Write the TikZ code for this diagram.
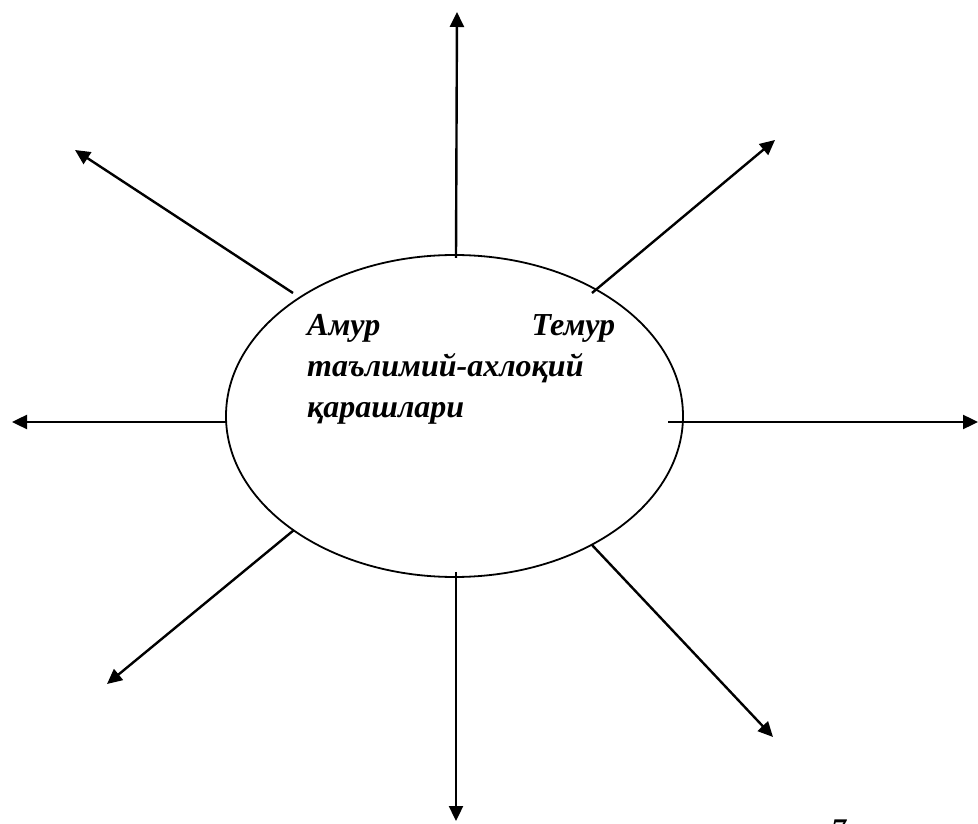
\documentclass[tikz,border=0pt]{standalone}
\usepackage{fontspec}
\setmainfont{Liberation Serif}
\usetikzlibrary{arrows.meta,shapes.geometric}
\tikzset{
  core/.style={draw,ellipse,line width=1.8pt,inner sep=0pt,
    minimum width=457pt,minimum height=322pt},
  ray/.style={-{Triangle[length=15pt,width=14pt]},line width=2.4pt},
  lbl/.style={font=\fontsize{32}{41}\selectfont\bfseries\itshape,
    text width=308pt,align=left,inner sep=0pt},
}
\begin{document}
\begin{tikzpicture}[x=1pt,y=1pt]
  \useasboundingbox (0,0) rectangle (978,823);
  \node[core] (c) at (454.5,407) {};
  \node[lbl,anchor=north west] (t) at (307,509)
    {Амур\hfill Темур\\таълимий-ахлоқий\\қарашлари};
  % ray ends
  \coordinate (sn)  at (456,565);  \coordinate (en)  at (457,811);
  \coordinate (ss)  at (456,251);  \coordinate (es)  at (456,2);
  \coordinate (sw)  at (226,401);  \coordinate (ew)  at (12,401);
  \coordinate (se)  at (668,401);  \coordinate (ee)  at (978,401);
  \coordinate (snw) at (293,530);  \coordinate (enw) at (75,673);
  \coordinate (sne) at (592,530);  \coordinate (ene) at (775,683);
  \coordinate (ssw) at (294,293);  \coordinate (esw) at (107,139);
  \coordinate (sse) at (592,278);  \coordinate (ese) at (773,86);
  \draw[ray] (sn)--(en);
  \draw[ray] (ss)--(es);
  \draw[ray] (sw)--(ew);
  \draw[ray] (se)--(ee);
  \draw[ray] (snw)--(enw);
  \draw[ray] (sne)--(ene);
  \draw[ray] (ssw)--(esw);
  \draw[ray] (sse)--(ese);
  \begin{scope}
    \clip (0,0) rectangle (978,823);
    \node[font=\fontsize{30}{36}\selectfont\bfseries\itshape,
      anchor=base west,inner sep=0pt] (pg) at (831,-16) {7};
  \end{scope}
\end{tikzpicture}
\end{document}
